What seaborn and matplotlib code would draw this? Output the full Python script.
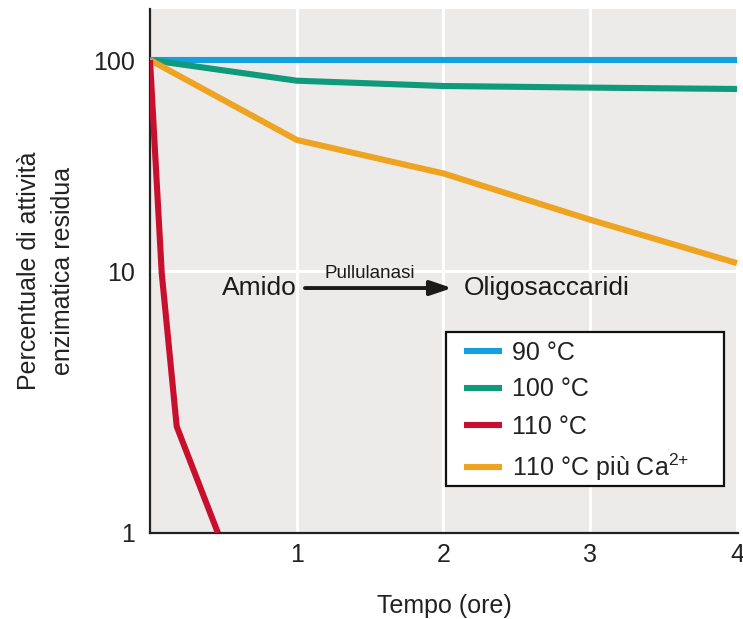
import numpy as np
import pandas as pd
import matplotlib
matplotlib.use("Agg")
import matplotlib.pyplot as plt
import seaborn as sns
from matplotlib.patches import Rectangle
from matplotlib.ticker import FixedLocator, NullLocator

# ===== Data =====
ore_90 = [0, 4]
att_90 = [100, 100]

ore_100 = [0, 1, 2, 3, 4]
att_100 = [100, 79.8, 75.3, 74.0, 72.9]

ore_110 = [0, 0.08, 0.182, 0.463]
att_110 = [100, 9.8, 2.55, 1.0]

ore_ca = [0, 1, 2, 3, 4]
att_ca = [100, 41.8, 29.0, 17.5, 10.9]

etichette = ["90 °C", "100 °C", "110 °C", "110 °C più Ca$^{\\text{2+}}$"]
colori = ["#149fdf", "#0f9a7b", "#c8102e", "#eea321"]

y_ticks = [1, 10, 100]
x_ticks = [1, 2, 3, 4]

# ===== Style =====
sns.set_theme(style="darkgrid", rc={
    "axes.facecolor": "#ecebea",
    "grid.color": "white",
    "grid.linewidth": 2.2,
    "axes.edgecolor": "#222222",
})
plt.rcParams["font.family"] = ["Liberation Sans", "DejaVu Sans"]
plt.rcParams["mathtext.fontset"] = "custom"
plt.rcParams["mathtext.rm"] = "Liberation Sans"
plt.rcParams["mathtext.it"] = "Liberation Sans:italic"
plt.rcParams["mathtext.bf"] = "Liberation Sans:bold"

fig = plt.figure(figsize=(7.43, 6.19), dpi=100)
ax = fig.add_axes([150 / 743, 86 / 619, 588 / 743, 524 / 619])

# the printed axis is log-like but the 1-10 decade is drawn taller than 10-100
K = 262 / 211


def fwd(v):
    l = np.log10(np.clip(np.asarray(v, float), 1e-6, None))
    return np.where(l >= 1, l, 1 + (l - 1) * K)


def inv(t):
    t = np.asarray(t, float)
    return np.where(t >= 1, 10 ** t, 10 ** (1 + (t - 1) / K))


serie = [(ore_90, att_90), (ore_100, att_100), (ore_ca, att_ca), (ore_110, att_110)]
ordine = [0, 1, 3, 2]
for (x, y), i in zip(serie, ordine):
    sns.lineplot(x=x, y=y, ax=ax, color=colori[i], lw=4.4, label=etichette[i],
                 solid_capstyle="butt", zorder=3)

ax.set_yscale("function", functions=(fwd, inv))
ax.set_ylim(1, 174.5)
ax.set_xlim(0, 4.007)
ax.yaxis.set_major_locator(FixedLocator(y_ticks))
ax.yaxis.set_minor_locator(NullLocator())
ax.set_yticklabels([str(v) for v in y_ticks])
ax.set_xticks(x_ticks)
ax.set_xticklabels([str(v) for v in x_ticks])
ax.tick_params(axis="both", length=0, labelsize=18, colors="#222222")
ax.tick_params(axis="x", pad=7)
ax.tick_params(axis="y", pad=11)

for s in ["top", "right"]:
    ax.spines[s].set_visible(False)
for s in ["left", "bottom"]:
    ax.spines[s].set_visible(True)
    ax.spines[s].set_linewidth(1.6)
    ax.spines[s].set_color("#222222")

ax.set_xlabel("Tempo (ore)", fontsize=18, labelpad=20, color="#222222")
ax.set_ylabel("Percentuale di attività\nenzimatica residua", fontsize=18,
              labelpad=13, linespacing=1.5, color="#222222")

# ===== Reaction annotation =====
ax.text(1.0, 8.1, "Amido", ha="right", va="baseline", fontsize=19, color="#1a1a1a")
ax.text(2.135, 8.1, "Oligosaccaridi", ha="left", va="baseline", fontsize=19, color="#1a1a1a")
ax.text(1.5, 9.4, "Pullulanasi", ha="center", va="baseline", fontsize=13.5, color="#1a1a1a")
ax.annotate("", xy=(2.058, 8.61), xytext=(1.056, 8.61),
            arrowprops=dict(arrowstyle="-|>,head_length=0.65,head_width=0.22",
                            mutation_scale=20, lw=2.8, color="#1a1a1a",
                            shrinkA=0, shrinkB=0))

# ===== Legend =====
ax.add_patch(Rectangle((0.5034, 0.0897), 0.4728, 0.2939, transform=ax.transAxes,
                       facecolor="white", edgecolor="#111111", lw=1.6, zorder=4))
h, l = ax.get_legend_handles_labels()
idx = [l.index(e) for e in etichette]
leg = ax.legend([h[i] for i in idx], [l[i] for i in idx], loc="upper left",
                bbox_to_anchor=((456 - 150) / 588, (533 - 333) / 524),
                borderaxespad=0, borderpad=0.3, frameon=False, fontsize=18,
                handlelength=1.55, handletextpad=0.4, labelspacing=0.52)
leg.set_zorder(5)
for t in leg.get_texts():
    t.set_color("#222222")

fig.savefig("out.png", dpi=100)
